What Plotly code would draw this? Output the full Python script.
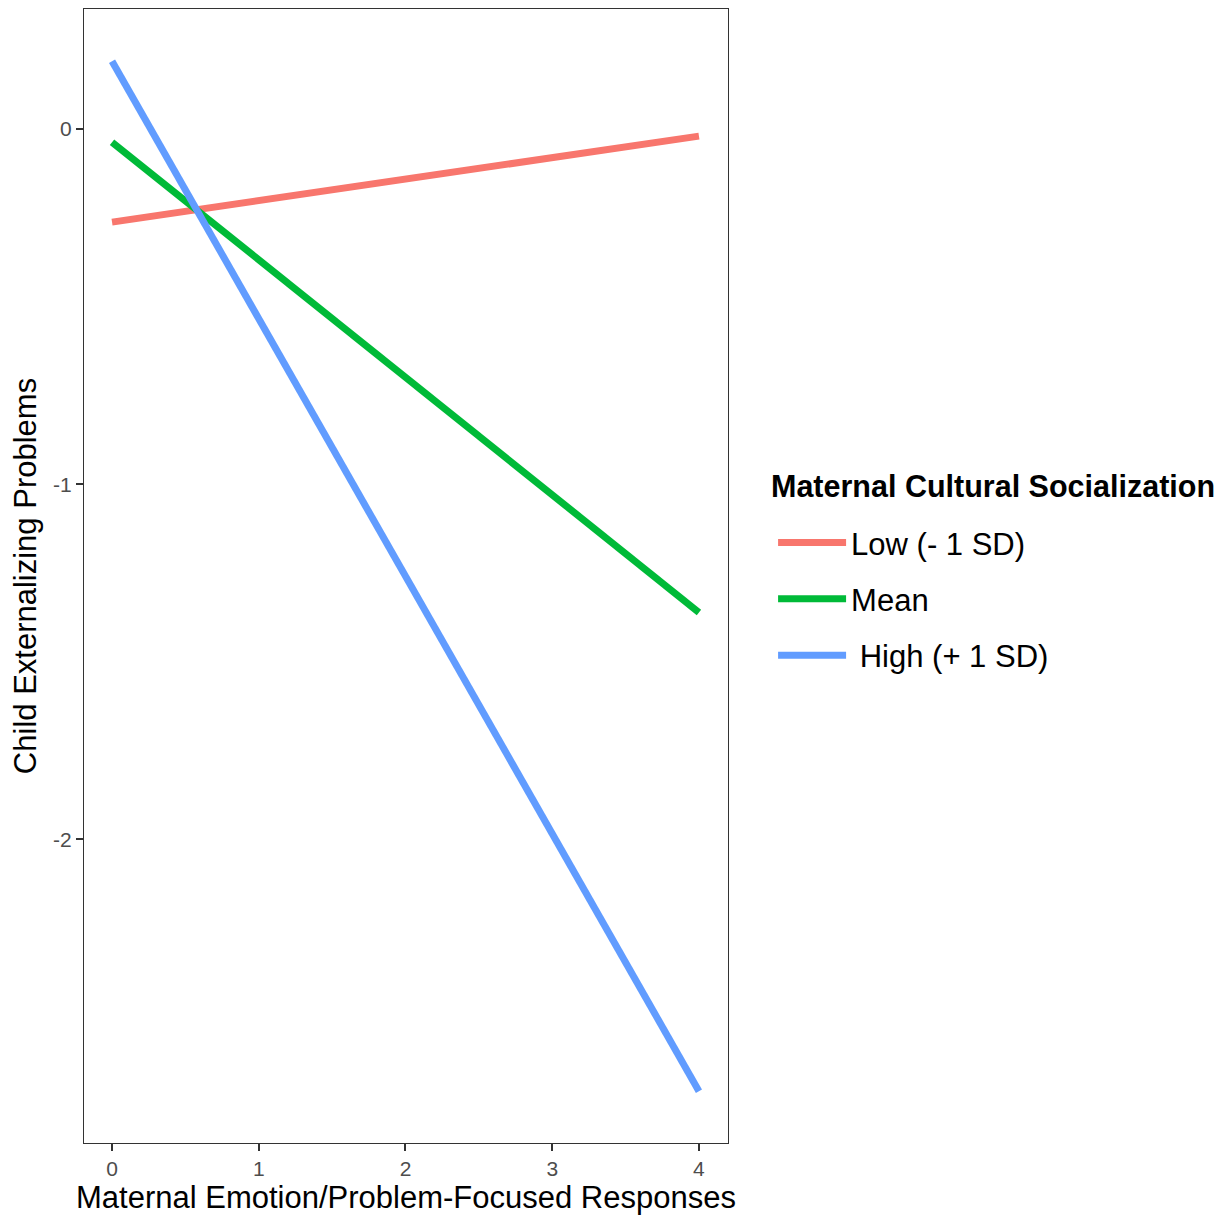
import plotly.graph_objects as go

x_vals = [0, 4]
low_vals = [-0.262, -0.020]
mean_vals = [-0.037, -1.361]
high_vals = [0.191, -2.709]
series_names = ["Low (- 1 SD)", "Mean", " High (+ 1 SD)"]
colors = ["#F8766D", "#00BA38", "#619CFF"]
x_ticks = [0, 1, 2, 3, 4]
y_ticks = [0, -1, -2]
y_ticktext = ["0", "-1", "-2"]
legend_title = "Maternal Cultural Socialization"

FONT = "Liberation Sans, Arial, sans-serif"

fig = go.Figure()
for name, vals, col in zip(series_names, [low_vals, mean_vals, high_vals], colors):
    fig.add_trace(go.Scatter(x=x_vals, y=vals, mode="lines", name=name, legendgroup=name,
                             line=dict(color=col, width=7)))

fig.add_annotation(
    text="<b>" + legend_title + "</b>", xref="paper", yref="paper",
    x=1.0635, xanchor="left", y=0.579, yanchor="middle", showarrow=False,
    font=dict(size=30.5, color="black", family=FONT),
)

fig.update_layout(
    width=1230, height=1218,
    margin=dict(l=76, r=510, t=1, b=83),
    paper_bgcolor="white", plot_bgcolor="white",
    font=dict(family=FONT, color="black"),
    legend=dict(
        font=dict(size=31, color="black"),
        x=1.070, xanchor="left", y=0.4798, yanchor="middle",
        tracegroupgap=13, itemwidth=68,
    ),
    xaxis=dict(
        range=[-0.191, 4.198], tickvals=x_ticks, ticks="outside", ticklen=7,
        tickwidth=2, tickcolor="#333333", tickfont=dict(size=21, color="#4D4D4D"),
        showgrid=False, zeroline=False, showline=True, mirror=True,
        linecolor="#333333", linewidth=1.3, automargin=False,
        title=dict(text="Maternal Emotion/Problem-Focused Responses", font=dict(size=31, color="black"), standoff=6),
    ),
    yaxis=dict(
        range=[-2.855, 0.338], tickvals=y_ticks, ticktext=y_ticktext, ticks="outside", ticklen=7,
        tickwidth=2, tickcolor="#333333", tickfont=dict(size=21, color="#4D4D4D"),
        showgrid=False, zeroline=False, showline=True, mirror=True,
        linecolor="#333333", linewidth=1.3, automargin=False,
        title=dict(text="Child Externalizing Problems", font=dict(size=31, color="black"), standoff=10),
    ),
)

fig.write_html("out.html")
